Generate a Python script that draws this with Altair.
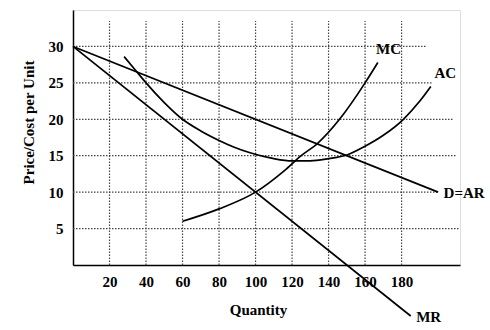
import altair as alt
import pandas as pd

FONT = "Liberation Serif"

# Demand / average revenue
d_x = [0, 200]
d_y = [30, 10]
# Marginal revenue
mr_x = [0, 185]
mr_y = [30, -7]
# Marginal cost
mc_x = [60, 80, 100, 116, 125, 134, 146, 160, 167]
mc_y = [6.0, 7.7, 10.0, 13.0, 15.0, 16.7, 20.0, 25.0, 27.8]
# Average cost
ac_x = [28, 34, 40, 50, 60, 70, 80, 88, 97, 110, 120, 130, 140, 150, 160, 170, 181, 190, 196]
ac_y = [28.6, 26.8, 25.0, 22.3, 20.0, 18.4, 17.1, 16.2, 15.4, 14.6, 14.3, 14.3, 14.6, 15.1, 16.3, 17.8, 20.0, 22.5, 24.5]

x_ticks = [20, 40, 60, 80, 100, 120, 140, 160, 180]
y_ticks = [5, 10, 15, 20, 25, 30]
grid_top = 33.5
grid_y_end = [212, 200, 210, 208, 197, 194]

label_text = ["MC", "AC", "D=AR", "MR"]
label_x = [166, 198, 203, 188]
label_y = [29.7, 26.3, 9.9, -7.1]

rows = []
for name, xs, ys in [("D=AR", d_x, d_y), ("MR", mr_x, mr_y), ("MC", mc_x, mc_y), ("AC", ac_x, ac_y)]:
    for i, (a, b) in enumerate(zip(xs, ys)):
        rows.append({"series": name, "q": a, "p": b, "order": i})
curves = pd.DataFrame(rows)

xscale = alt.Scale(domain=[0, 212], nice=False, zero=False)
yscale = alt.Scale(domain=[0, 35], nice=False, zero=False)

xaxis = alt.Axis(values=x_ticks, grid=False, ticks=False, title="Quantity",
                 domainColor="black", domainWidth=1.5, labelPadding=9,
                 labelFont=FONT, labelFontSize=15, labelFontWeight="bold", labelColor="black",
                 titleFont=FONT, titleFontSize=15, titleFontWeight="bold", titleColor="black",
                 titlePadding=13, titleX=185)
yaxis = alt.Axis(values=y_ticks, grid=False, ticks=False, title="Price/Cost per Unit",
                 domainColor="black", domainWidth=1.5, labelPadding=10,
                 labelFont=FONT, labelFontSize=15, labelFontWeight="bold", labelColor="black",
                 titleFont=FONT, titleFontSize=15, titleFontWeight="bold", titleColor="black",
                 titlePadding=12, titleY=112)

vgrid = alt.Chart(pd.DataFrame({"q": x_ticks, "top": [grid_top] * len(x_ticks), "bot": [0] * len(x_ticks)})).mark_rule(
    color="#444", strokeDash=[1.5, 1.5], strokeWidth=1.2
).encode(x=alt.X("q:Q", scale=xscale, axis=xaxis), y=alt.Y("bot:Q", scale=yscale, axis=yaxis), y2="top:Q")

hgrid = alt.Chart(pd.DataFrame({"p": y_ticks, "x0": [0] * len(y_ticks), "x1": grid_y_end})).mark_rule(
    color="#444", strokeDash=[1.5, 1.5], strokeWidth=1.2
).encode(y=alt.Y("p:Q", scale=yscale), x=alt.X("x0:Q", scale=xscale), x2="x1:Q")

lines = alt.Chart(curves).mark_line(color="black", strokeWidth=1.7, interpolate="monotone").encode(
    x=alt.X("q:Q", scale=xscale),
    y=alt.Y("p:Q", scale=yscale),
    detail="series:N",
    order="order:Q",
)

labels = alt.Chart(pd.DataFrame({"t": label_text, "q": label_x, "p": label_y})).mark_text(
    align="left", baseline="middle", font=FONT, fontSize=15, fontWeight="bold", color="black"
).encode(x=alt.X("q:Q", scale=xscale), y=alt.Y("p:Q", scale=yscale), text="t:N")

chart = alt.layer(vgrid, hgrid, lines, labels).properties(
    width=387, height=255,
    autosize=alt.AutoSizeParams(type="none"),
    padding={"left": 73, "top": 10, "right": 30, "bottom": 65},
).configure_view(stroke=None).configure(background="white")

chart.save("out.html", embed_options={"renderer": "svg", "actions": False})
